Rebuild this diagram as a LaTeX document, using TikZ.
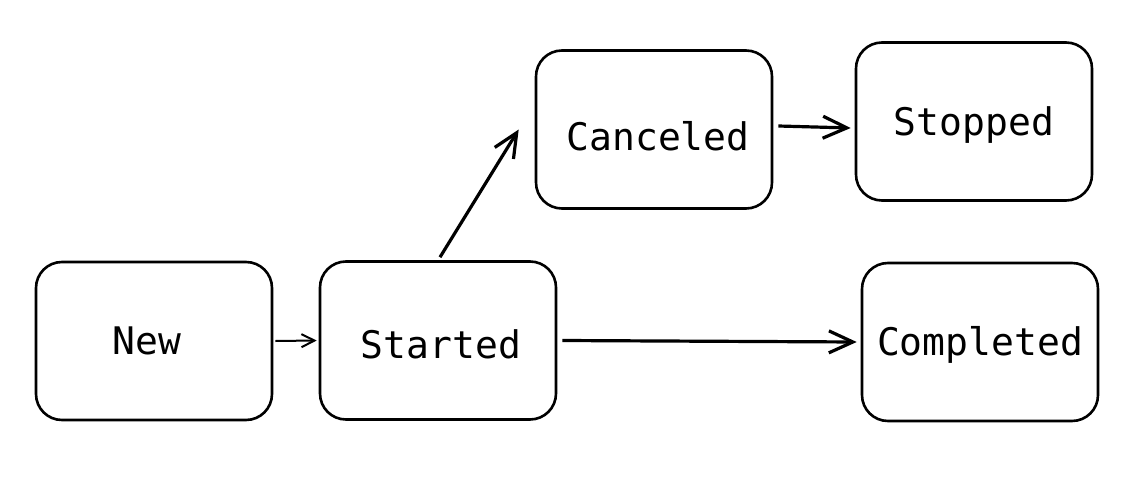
\documentclass[tikz,border=0pt]{standalone}
\usepackage{fontspec}
\setmonofont{DejaVu Sans Mono}
\usetikzlibrary{arrows.meta}

% move a label inside its box: dx, dy, text
\newcommand{\nudge}[3]{\hspace*{#1}\hspace*{#1}\raisebox{#2}{#3}}

\begin{document}
\begin{tikzpicture}[x=1pt, y=-1pt,
		state/.style={draw, line width=2.6pt, rounded corners=26pt,
			minimum width=236pt, minimum height=158pt,
			text height=27.7pt, text depth=0pt,
			font=\ttfamily\fontsize{38}{40}\selectfont},
		arr/.style={line width=3.2pt, -{Straight Barb[length=24pt,width=22pt,line width=3.2pt]}},
		thinarr/.style={line width=2pt, -{Straight Barb[length=13pt,width=13pt,line width=2pt]}}]
		\useasboundingbox (0,0) rectangle (1131,489);
		\node[state] (new) at (154,341) {\nudge{-7pt}{0pt}{New}};
		\node[state] (started) at (438,340.5) {\nudge{3pt}{-4.5pt}{Started}};
		\node[state] (canceled) at (654,129.5) {\nudge{4pt}{-7.5pt}{Canceled}};
		\node[state] (stopped) at (974,121.5) {Stopped};
		\node[state] (completed) at (980,342) {Completed};
		\draw[thinarr] ([xshift=2pt]new.east) -- ([xshift=-2pt]started.west);
		\draw[arr] ([xshift=2pt,yshift=3pt]started.north) -- ([xshift=-16pt]canceled.west);
		\draw[arr] ([xshift=5pt,yshift=3.5pt]canceled.east) -- ([xshift=-4pt,yshift=-6.5pt]stopped.west);
		\draw[arr] ([xshift=5pt]started.east) -- ([xshift=-4pt]completed.west);
	\end{tikzpicture}
\end{document}
